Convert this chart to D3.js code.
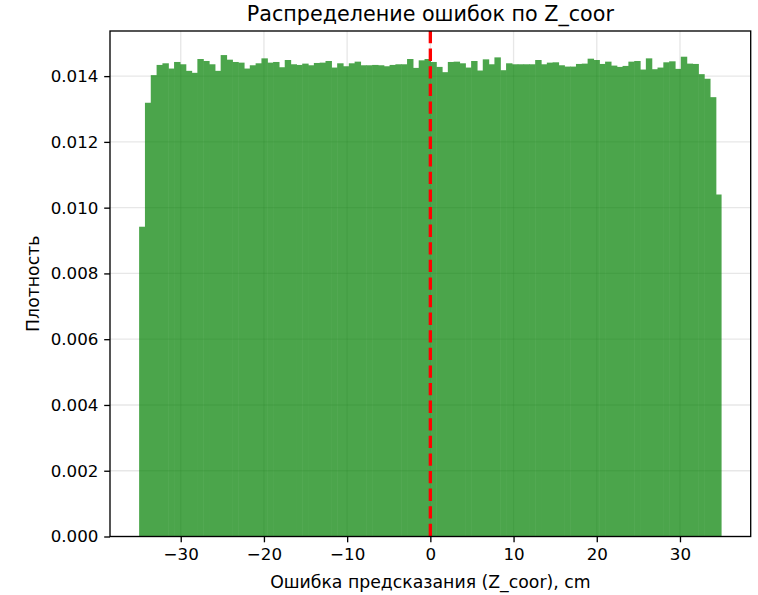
<!DOCTYPE html>
<html><head><meta charset="utf-8">
<script src="https://cdn.jsdelivr.net/npm/d3@7"></script>
<style>
body{margin:0;background:#fff;}
svg{display:block;font-family:"DejaVu Sans",sans-serif;}
</style></head>
<body>
<svg id="chart" width="758" height="595"></svg>
<script>
// ---- data ----
const binMin = -35, binMax = 35, binCount = 100;
const densities = [
0.00942,0.01319,0.01403,0.01434,0.01439,0.01423,0.01443,0.01436,0.01416,0.01410,
0.01452,0.01446,0.01436,0.01416,0.01464,0.01450,0.01443,0.01441,0.01423,0.01433,
0.01439,0.01454,0.01441,0.01443,0.01427,0.01449,0.01436,0.01434,0.01438,0.01433,
0.01440,0.01441,0.01446,0.01426,0.01439,0.01430,0.01439,0.01444,0.01433,0.01433,
0.01434,0.01433,0.01430,0.01434,0.01436,0.01436,0.01452,0.01425,0.01448,0.01452,
0.01443,0.01428,0.01412,0.01443,0.01444,0.01439,0.01426,0.01446,0.01417,0.01451,
0.01436,0.01457,0.01418,0.01439,0.01436,0.01436,0.01436,0.01436,0.01449,0.01436,
0.01441,0.01442,0.01433,0.01429,0.01429,0.01437,0.01438,0.01453,0.01449,0.01437,
0.01444,0.01432,0.01428,0.01431,0.01444,0.01446,0.01420,0.01454,0.01421,0.01426,
0.01442,0.01445,0.01422,0.01459,0.01438,0.01437,0.01406,0.01392,0.01336,0.01040
];
const xTicks = [-30,-20,-10,0,10,20,30];
const yTicks = [0,0.002,0.004,0.006,0.008,0.010,0.012,0.014];
const refLine = 0;
const titleText = "Распределение ошибок по Z_coor";
const xLabelText = "Ошибка предсказания (Z_coor), cm";
const yLabelText = "Плотность";

// ---- layout ----
const svg = d3.select("#chart");
const W = 758, H = 595;
const m = {left:110, right:7.3, top:31, bottom:58.5};
const iw = W - m.left - m.right, ih = H - m.top - m.bottom;

const binW = (binMax - binMin) / binCount;
const bins = densities.map((v,i)=>({x0: binMin + i*binW, x1: binMin + (i+1)*binW, v}));
const pad = (binMax - binMin) * 0.05;
const x = d3.scaleLinear().domain([binMin - pad, binMax + pad]).range([m.left, m.left+iw]);
const yMax = d3.max(densities) * 1.05;
const y = d3.scaleLinear().domain([0, yMax]).range([m.top+ih, m.top]);

// grid
const g = svg.append("g");
g.selectAll(".gx").data(xTicks).join("line")
  .attr("x1", d=>x(d)).attr("x2", d=>x(d)).attr("y1", m.top).attr("y2", m.top+ih)
  .attr("stroke", "#b0b0b0").attr("stroke-opacity", 0.3).attr("stroke-width", 1.33);
g.selectAll(".gy").data(yTicks).join("line")
  .attr("x1", m.left).attr("x2", m.left+iw).attr("y1", d=>y(d)).attr("y2", d=>y(d))
  .attr("stroke", "#b0b0b0").attr("stroke-opacity", 0.3).attr("stroke-width", 1.33);

// bars (group opacity avoids seams between adjacent bars)
svg.append("g").attr("opacity", 0.7).selectAll("rect").data(bins).join("rect")
  .attr("x", d=>x(d.x0)).attr("width", (d,i)=> x(d.x1)-x(d.x0) + (i < bins.length-1 ? 0.6 : 0))
  .attr("y", d=>y(d.v)).attr("height", d=>y(0)-y(d.v))
  .attr("fill", "green");

// reference line
svg.append("line")
  .attr("x1", x(refLine)).attr("x2", x(refLine)).attr("y1", m.top).attr("y2", m.top+ih)
  .attr("stroke", "red").attr("stroke-width", 3.33).attr("stroke-dasharray", "12.3,5.3");

// axes
const fmtX = d => d3.format("")(d).replace("-", "\u2212");
const xAxis = d3.axisBottom(x).tickValues(xTicks).tickFormat(fmtX).tickSize(5.8).tickPadding(5.8);
const yAxis = d3.axisLeft(y).tickValues(yTicks).tickFormat(d3.format(".3f")).tickSize(5.8).tickPadding(5.8);
const gx = svg.append("g").attr("transform", `translate(0,${m.top+ih})`).call(xAxis);
const gy = svg.append("g").attr("transform", `translate(${m.left},0)`).call(yAxis);
[gx, gy].forEach(a=>{
  a.select(".domain").remove();
  a.selectAll(".tick line").attr("stroke","#000").attr("stroke-width",1.33);
  a.selectAll(".tick text").attr("fill","#000").style("font-size","16.7px").style("font-family","DejaVu Sans");
});

// frame
svg.append("rect").attr("x", m.left).attr("y", m.top).attr("width", iw).attr("height", ih)
  .attr("fill","none").attr("stroke","#000").attr("stroke-width",1.33);

// labels
svg.append("text").attr("x", m.left+iw/2).attr("y", 21).attr("text-anchor","middle")
  .style("font-size","20.7px").text(titleText);
svg.append("text").attr("x", m.left+iw/2).attr("y", 588).attr("text-anchor","middle")
  .style("font-size","17.3px").text(xLabelText);
svg.append("text").attr("transform", `translate(39,${m.top+ih/2}) rotate(-90)`).attr("text-anchor","middle")
  .style("font-size","17.3px").text(yLabelText);
</script>
</body></html>
